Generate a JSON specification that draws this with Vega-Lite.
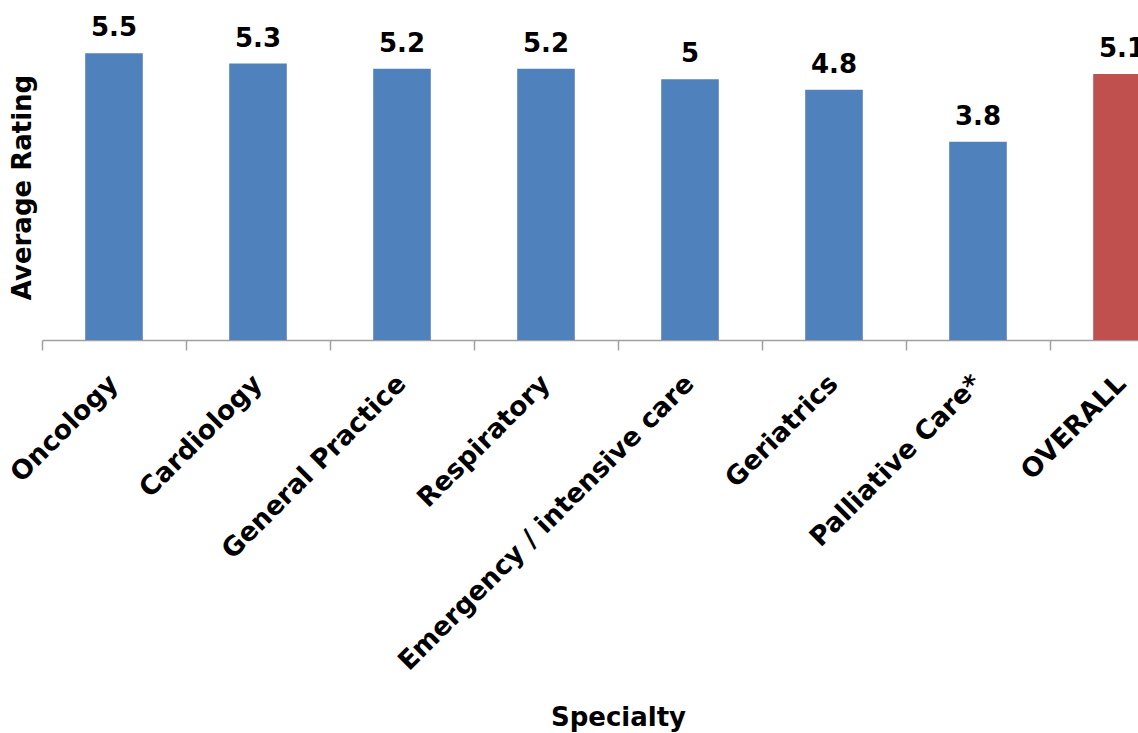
{
  "$schema": "https://vega.github.io/schema/vega-lite/v6.json",
  "width": 1096,
  "height": 339,
  "autosize": "none",
  "padding": {"left": 42, "top": 1, "right": 0, "bottom": 393},
  "background": "white",
  "config": {
    "view": {"stroke": null},
    "font": "DejaVu Sans"
  },
  "data": {
    "values": [
      {"specialty": "Oncology", "rating": 5.5, "group": "Specialty"},
      {"specialty": "Cardiology", "rating": 5.3, "group": "Specialty"},
      {"specialty": "General Practice", "rating": 5.2, "group": "Specialty"},
      {"specialty": "Respiratory", "rating": 5.2, "group": "Specialty"},
      {"specialty": "Emergency / intensive care", "rating": 5.0, "group": "Specialty"},
      {"specialty": "Geriatrics", "rating": 4.8, "group": "Specialty"},
      {"specialty": "Palliative Care*", "rating": 3.8, "group": "Specialty"},
      {"specialty": "OVERALL", "rating": 5.1, "group": "Overall"}
    ]
  },
  "encoding": {
    "x": {
      "field": "specialty",
      "type": "nominal",
      "sort": null,
      "scale": {"range": [0, 1152], "paddingInner": 0, "paddingOuter": 0},
      "axis": {
        "title": "Specialty",
        "titleFont": "DejaVu Sans",
        "titleFontSize": 26,
        "titleFontWeight": "bold",
        "titleColor": "black",
        "titleY": 385,
        "titleBaseline": "alphabetic",
        "labelAngle": -45,
        "labelFont": "DejaVu Sans",
        "labelFontSize": 26.5,
        "labelFontWeight": "bold",
        "labelColor": "black",
        "labelPadding": 20,
        "labelOffset": -10,
        "labelLimit": 0,
        "tickBand": "extent",
        "tickSize": 10,
        "tickColor": "#A0A0A0",
        "domainColor": "#A0A0A0",
        "domainWidth": 1.5,
        "tickWidth": 1.5,
        "labelOverlap": false
      }
    },
    "y": {
      "field": "rating",
      "type": "quantitative",
      "scale": {"domain": [0, 6.5], "nice": false},
      "axis": {
        "title": "Average Rating",
        "titleFont": "DejaVu Sans",
        "titleFontSize": 26,
        "titleFontWeight": "bold",
        "titleColor": "black",
        "titleX": -12,
        "titleY": 186,
        "titleBaseline": "alphabetic",
        "domain": false,
        "ticks": false,
        "labels": false,
        "grid": false
      }
    }
  },
  "layer": [
    {
      "mark": {"type": "bar", "width": {"band": 0.4}},
      "encoding": {
        "color": {
          "field": "group",
          "type": "nominal",
          "scale": {"domain": ["Specialty", "Overall"], "range": ["#4F81BD", "#C0504D"]},
          "legend": null
        }
      }
    },
    {
      "mark": {"type": "text", "baseline": "alphabetic", "dy": -17, "font": "DejaVu Sans", "fontSize": 26, "fontWeight": "bold", "color": "black"},
      "encoding": {
        "text": {"field": "rating", "type": "quantitative"}
      }
    }
  ]
}
